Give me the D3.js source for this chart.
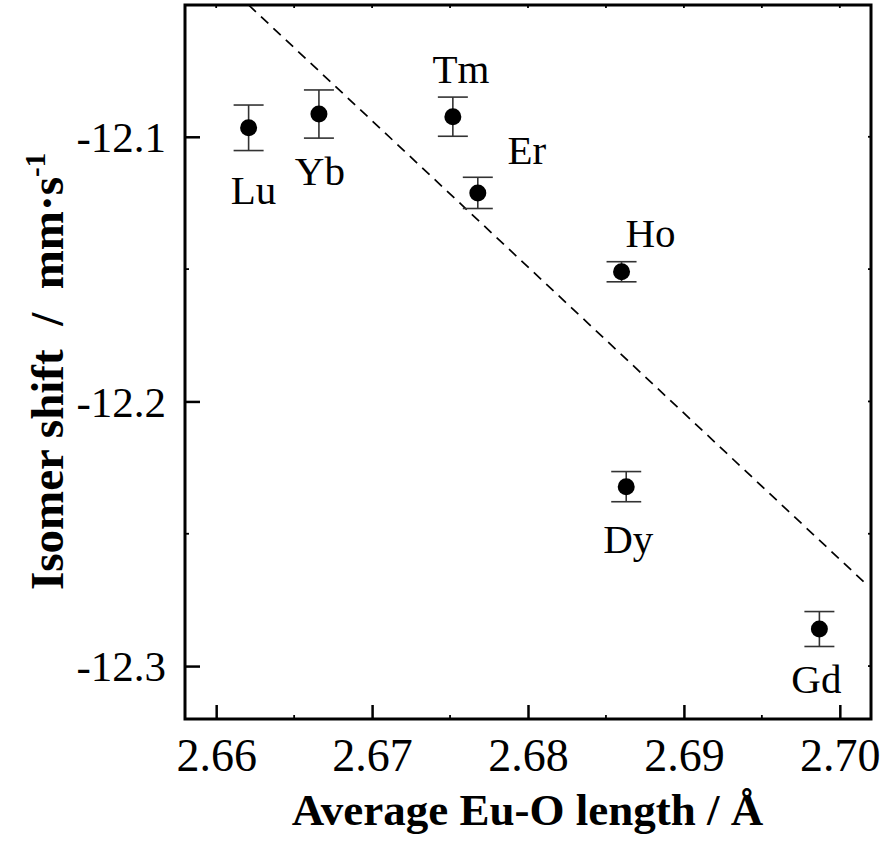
<!DOCTYPE html>
<html>
<head>
<meta charset="utf-8">
<script src="https://cdn.jsdelivr.net/npm/d3@7"></script>
<style>
  html, body { margin: 0; padding: 0; background: #fff; }
  svg { display: block; }
  text { font-family: "Liberation Serif", "Times New Roman", serif; fill: #000; }
</style>
</head>
<body>
<svg id="chart" width="885" height="844"></svg>
<script>
// ---- data ----
const elements = ["Lu", "Yb", "Tm", "Er", "Ho", "Dy", "Gd"];
const euOLength = [2.66208, 2.66659, 2.67518, 2.67678, 2.6860, 2.6863, 2.69869];
const isomerShift = [-12.0966, -12.0914, -12.0924, -12.1212, -12.1510, -12.2322, -12.2860];
const shiftError = [0.0086, 0.0091, 0.0074, 0.0059, 0.0038, 0.0057, 0.0066];
const fitX = [2.66208, 2.70176];
const fitY = [-12.0502, -12.2694];
const xTicks = [2.66, 2.67, 2.68, 2.69, 2.70];
const xTickLabels = ["2.66", "2.67", "2.68", "2.69", "2.70"];
const yTicks = [-12.1, -12.2, -12.3];
const yTickLabels = ["-12.1", "-12.2", "-12.3"];
const xMinorTicks = [2.665, 2.675, 2.685, 2.695];
const yMinorTicks = [-12.15, -12.25];

// label placement offsets (px) relative to each point
const labelDx = [5, 1, 8, 49, 29, 2, -3];
const labelDy = [76, 71, -34, -29, -25, 66, 64];

// ---- layout ----
const L = 185, R = 871, T = 5, B = 719;
const svg = d3.select("#chart");
const x = d3.scaleLinear().domain([2.658, 2.702]).range([L, R]);
const y = d3.scaleLinear().domain([-12.32, -12.0502]).range([B, T]);

const clipId = "plotclip";
svg.append("defs").append("clipPath").attr("id", clipId)
  .append("rect").attr("x", L).attr("y", T).attr("width", R - L).attr("height", B - T);

// fit line
svg.append("line")
  .attr("clip-path", `url(#${clipId})`)
  .attr("x1", x(fitX[0])).attr("y1", y(fitY[0]))
  .attr("x2", x(fitX[1])).attr("y2", y(fitY[1]))
  .attr("stroke", "#000").attr("stroke-width", 1.7)
  .attr("stroke-dasharray", "10,7");

// axes: major ticks inward
const xAxis = d3.axisBottom(x).tickValues(xTicks).tickSizeInner(-14).tickSizeOuter(0)
  .tickFormat((d, i) => xTickLabels[i]).tickPadding(19);
const gx = svg.append("g").attr("transform", `translate(0,${B})`).call(xAxis);
gx.select(".domain").remove();
gx.selectAll(".tick line").attr("stroke", "#000").attr("stroke-width", 2.5);
gx.selectAll(".tick text").attr("font-size", "46px").attr("font-family", "Liberation Serif").attr("fill", "#000");

const yAxis = d3.axisLeft(y).tickValues(yTicks).tickSizeInner(-15).tickSizeOuter(0)
  .tickFormat((d, i) => yTickLabels[i]).tickPadding(19);
const gy = svg.append("g").attr("transform", `translate(${L},0)`).call(yAxis);
gy.select(".domain").remove();
gy.selectAll(".tick line").attr("stroke", "#000").attr("stroke-width", 2.5);
gy.selectAll(".tick text").attr("font-size", "43px").attr("font-family", "Liberation Serif").attr("fill", "#000").attr("dy", "0.34em");

// minor ticks on bottom/left, small ticks on top/right
const smallTicks = svg.append("g").attr("stroke", "#000").attr("stroke-width", 1.8);
xMinorTicks.forEach(v => {
  smallTicks.append("line").attr("x1", x(v)).attr("x2", x(v)).attr("y1", B).attr("y2", B - 4);
});
xTicks.concat(xMinorTicks).forEach(v => {
  smallTicks.append("line").attr("x1", x(v)).attr("x2", x(v)).attr("y1", T).attr("y2", T + 3);
});
yMinorTicks.forEach(v => {
  smallTicks.append("line").attr("x1", L).attr("x2", L + 4).attr("y1", y(v)).attr("y2", y(v));
});
yTicks.concat(yMinorTicks).forEach(v => {
  smallTicks.append("line").attr("x1", R).attr("x2", R - 3).attr("y1", y(v)).attr("y2", y(v));
});

// frame
svg.append("rect").attr("x", L).attr("y", T).attr("width", R - L).attr("height", B - T)
  .attr("fill", "none").attr("stroke", "#000").attr("stroke-width", 3);

// error bars
const idx = d3.range(elements.length);
const eb = svg.append("g").attr("stroke", "#333").attr("stroke-width", 1.6);
idx.forEach(i => {
  const cx = x(euOLength[i]);
  const yt = y(isomerShift[i] + shiftError[i]);
  const yb = y(isomerShift[i] - shiftError[i]);
  eb.append("line").attr("x1", cx).attr("x2", cx).attr("y1", yt).attr("y2", yb);
  eb.append("line").attr("x1", cx - 15).attr("x2", cx + 15).attr("y1", yt).attr("y2", yt);
  eb.append("line").attr("x1", cx - 15).attr("x2", cx + 15).attr("y1", yb).attr("y2", yb);
});

// points
svg.append("g").selectAll("circle").data(idx).join("circle")
  .attr("cx", i => x(euOLength[i]))
  .attr("cy", i => y(isomerShift[i]))
  .attr("r", 8.5)
  .attr("fill", "#000");

// element labels
svg.append("g").selectAll("text").data(idx).join("text")
  .attr("x", i => x(euOLength[i]) + labelDx[i])
  .attr("y", i => y(isomerShift[i]) + labelDy[i])
  .attr("text-anchor", "middle")
  .attr("font-size", "41px")
  .text(i => elements[i]);

// axis titles
svg.append("text")
  .attr("x", (293 + 762) / 2).attr("y", 825)
  .attr("text-anchor", "middle")
  .attr("font-size", "45px").attr("font-weight", "bold")
  .text("Average Eu-O length / Å");

const yt = svg.append("text")
  .attr("transform", "translate(63,590) rotate(-90)")
  .attr("text-anchor", "start")
  .attr("font-size", "47px").attr("font-weight", "bold")
  .attr("xml:space", "preserve").style("white-space", "pre");
yt.append("tspan").text("Isomer shift  /  mm·s");
yt.append("tspan").attr("dy", "-0.62em").attr("font-size", "29px").text("-1");
</script>
</body>
</html>
